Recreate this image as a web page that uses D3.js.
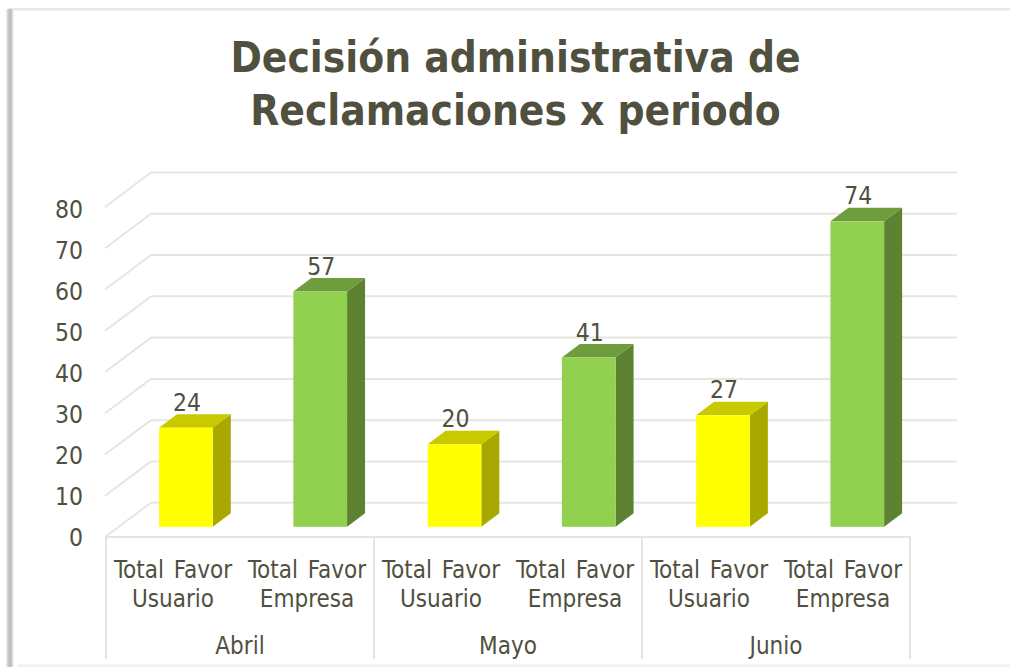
<!DOCTYPE html>
<html><head><meta charset="utf-8">
<script src="https://cdn.jsdelivr.net/npm/d3@7/dist/d3.min.js"></script>
<style>html,body{margin:0;padding:0;background:#fff}svg{display:block}text{font-family:"DejaVu Sans Condensed","DejaVu Sans",sans-serif;font-stretch:condensed;fill:#50503f}</style>
</head><body><svg id="c" width="1010" height="667"></svg>
<script>
const periods = ["Abril","Mayo","Junio"];
const subcats = ["Total Favor Usuario","Total Favor Empresa"];
const valuesUsuario = [24,20,27];
const valuesEmpresa = [57,41,74];
const yTicks = [0,10,20,30,40,50,60,70,80];
const titleLines = ["Decisión administrativa de","Reclamaciones x periodo"];

const colors = {
  "Total Favor Usuario":{front:"#ffff00",top:"#c9c900",side:"#a8a800"},
  "Total Favor Empresa":{front:"#92d050",top:"#6f9c3c",side:"#5c8232"}
};
const rows = periods.flatMap((p,i)=>[
  {key:p+"0",period:p,sub:subcats[0],value:valuesUsuario[i]},
  {key:p+"1",period:p,sub:subcats[1],value:valuesEmpresa[i]}
]);

const svg = d3.select("#c");
const gridCol = "#e6e6e0";

const periodScale = d3.scaleBand().domain(periods).range([106,910]);
const frontScale = d3.scaleBand().domain(rows.map(d=>d.key)).range([106,910]);
const barScale = d3.scaleBand().domain(rows.map(d=>d.key)).range([118.8,924.4]).paddingInner(0.6).paddingOuter(0.3);
const yFront = d3.scaleLinear().domain([0,80]).range([537,207]);
const yBack = d3.scaleLinear().domain([0,80]).range([502.7,172.5]);
const yBar = d3.scaleLinear().domain([0,80]).range([526.8,196.6]);
const yLabel = d3.scaleLinear().domain([0,80]).range([546,218]);
const dx=18, dy=13.6;

// frame
const defs=svg.append("defs");
const lg=defs.append("linearGradient").attr("id","edge").attr("x1",0).attr("x2",1).attr("y1",0).attr("y2",0);
lg.append("stop").attr("offset",0).attr("stop-color","#eeeeea");
lg.append("stop").attr("offset",.45).attr("stop-color","#bcbcb8");
lg.append("stop").attr("offset",.7).attr("stop-color","#c8c8c4");
lg.append("stop").attr("offset",1).attr("stop-color","#ffffff");
svg.append("rect").attr("x",8).attr("y",8).attr("width",1002).attr("height",2.5).attr("fill","#e8e8e4");
svg.append("rect").attr("x",6).attr("y",9).attr("width",8).attr("height",658).attr("fill","url(#edge)");
svg.append("rect").attr("x",18).attr("y",664.5).attr("width",992).attr("height",2.5).attr("fill","#f0f0ec");

// title
svg.append("g").selectAll("text").data(titleLines).join("text")
  .attr("x",515.5).attr("y",(d,i)=>72+i*53).attr("text-anchor","middle")
  .attr("font-size",42).attr("font-weight",700).text(d=>d);

// grid
const g=svg.append("g").attr("fill","none").attr("stroke",gridCol).attr("stroke-width",2);
g.selectAll(".back").data(yTicks).join("line").attr("class","back")
  .attr("x1",151).attr("x2",957).attr("y1",d=>yBack(d)).attr("y2",d=>yBack(d));
g.selectAll(".diag").data(yTicks).join("line").attr("class","diag")
  .attr("x1",105).attr("x2",151).attr("y1",d=>yFront(d)).attr("y2",d=>yBack(d));

// base axis
g.append("line").attr("x1",105).attr("x2",911).attr("y1",537).attr("y2",537);
g.selectAll(".div").data([...periods.map(p=>periodScale(p)),910]).join("line").attr("class","div")
  .attr("x1",d=>d).attr("x2",d=>d).attr("y1",537).attr("y2",659);

// y labels
svg.append("g").selectAll("text").data(yTicks).join("text")
  .attr("x",83).attr("y",d=>yLabel(d)).attr("text-anchor","end").attr("font-size",24.5).text(d=>d);

// bars
const bars=svg.append("g").selectAll("g").data(rows).join("g");
const bx=d=>barScale(d.key), bw=barScale.bandwidth();
bars.append("path").attr("fill",d=>colors[d.sub].side).attr("d",d=>{
  const x=bx(d)+bw,t=yBar(d.value),b=yBar(0);
  return `M${x},${t}L${x+dx},${t-dy}L${x+dx},${b-dy}L${x},${b}Z`;});
bars.append("path").attr("fill",d=>colors[d.sub].top).attr("d",d=>{
  const x=bx(d),t=yBar(d.value);
  return `M${x},${t}L${x+dx},${t-dy}L${x+bw+dx},${t-dy}L${x+bw},${t}Z`;});
bars.append("rect").attr("fill",d=>colors[d.sub].front)
  .attr("x",bx).attr("width",bw).attr("y",d=>yBar(d.value)).attr("height",d=>yBar(0)-yBar(d.value));
bars.append("text").attr("x",d=>bx(d)+bw/2+1).attr("y",d=>yBar(d.value)-17)
  .attr("text-anchor","middle").attr("font-size",24.5).text(d=>d.value);

// category labels
const lab=svg.append("g").selectAll("g").data(rows).join("g");
lab.append("text").attr("x",d=>frontScale(d.key)+frontScale.bandwidth()/2).attr("y",578)
  .attr("text-anchor","middle").attr("font-size",24).attr("word-spacing",3).text(d=>d.sub.split(" ").slice(0,2).join(" "));
lab.append("text").attr("x",d=>frontScale(d.key)+frontScale.bandwidth()/2).attr("y",607)
  .attr("text-anchor","middle").attr("font-size",24).text(d=>d.sub.split(" ")[2]);
svg.append("g").selectAll("text").data(periods).join("text")
  .attr("x",d=>periodScale(d)+periodScale.bandwidth()/2).attr("y",654)
  .attr("text-anchor","middle").attr("font-size",24).text(d=>d);
</script></body></html>
